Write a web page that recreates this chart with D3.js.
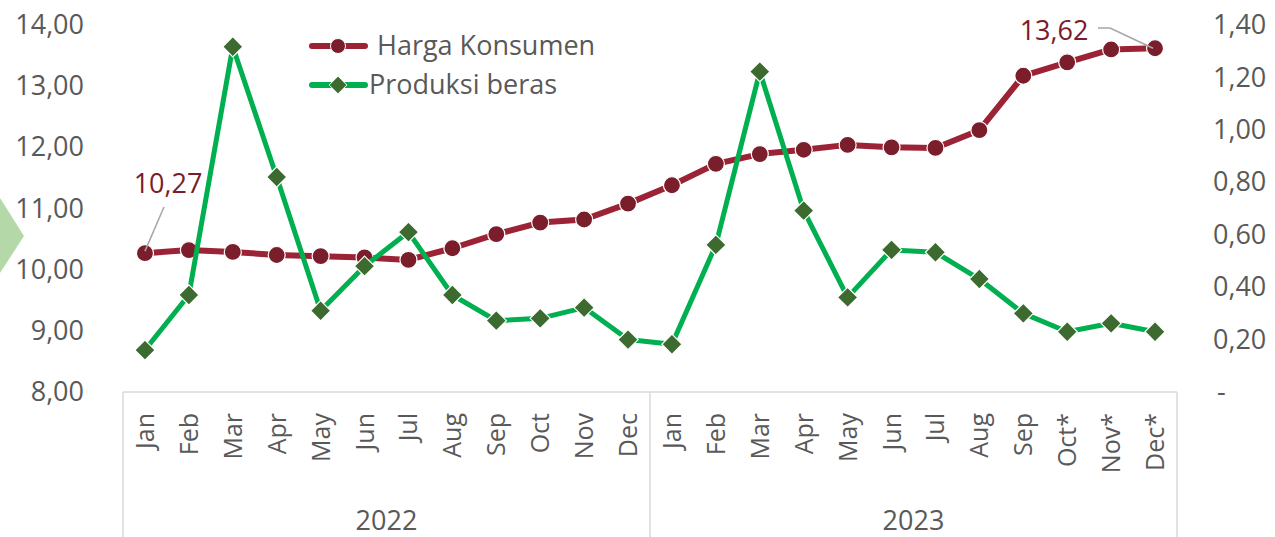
<!DOCTYPE html>
<html>
<head>
<meta charset="utf-8">
<script src="https://cdn.jsdelivr.net/npm/d3@7"></script>
<style>
    body { margin: 0; background: #fff; }
    text { font-family: "Open Sans", "Noto Sans", sans-serif; }
</style>
</head>
<body>
<div id="chart"></div>
<script>
// months and years on the x axis
const years = ["2022", "2023"];
const months = ["Jan", "Feb", "Mar", "Apr", "May", "Jun", "Jul", "Aug", "Sep", "Oct", "Nov", "Dec",
                "Jan", "Feb", "Mar", "Apr", "May", "Jun", "Jul", "Aug", "Sep", "Oct*", "Nov*", "Dec*"];

// Harga Konsumen (left axis)
const harga = [10.27, 10.32, 10.29, 10.24, 10.22, 10.20, 10.16, 10.35, 10.58, 10.77, 10.82, 11.08,
               11.38, 11.73, 11.89, 11.96, 12.04, 12.00, 11.99, 12.28, 13.17, 13.39, 13.60, 13.62];

// Produksi beras (right axis)
const produksi = [0.16, 0.37, 1.317, 0.82, 0.31, 0.48, 0.61, 0.37, 0.272, 0.281, 0.322, 0.20,
                  0.182, 0.561, 1.222, 0.692, 0.361, 0.542, 0.533, 0.431, 0.30, 0.23, 0.262, 0.23];

const leftTicks = [8, 9, 10, 11, 12, 13, 14];
const rightTicks = [0, 0.2, 0.4, 0.6, 0.8, 1.0, 1.2, 1.4];

const width = 1275, height = 537;
const margin = { top: 25, right: 98, bottom: 145, left: 123 };

const svg = d3.select("#chart").append("svg")
    .attr("width", width)
    .attr("height", height);

const locale = d3.formatLocale({ decimal: ",", thousands: ".", grouping: [3], currency: ["", ""] });
const f2 = locale.format(".2f");

// index of each point, so months can repeat
const idx = months.map((m, i) => i);

const x = d3.scaleBand()
    .domain(idx)
    .range([margin.left, width - margin.right])
    .padding(0);

const yL = d3.scaleLinear()
    .domain([8, 14])
    .range([height - margin.bottom, margin.top]);

const yR = d3.scaleLinear()
    .domain([0, 1.4])
    .range([height - margin.bottom, margin.top]);

const cx = i => x(i) + x.bandwidth() / 2;
const axisY = height - margin.bottom;

// decorative chevron at the left edge
svg.append("polygon")
    .attr("points", "0,198 24,236 0,273")
    .attr("fill", "#b4d8a8");

// left axis
const leftAxis = svg.append("g")
    .attr("transform", "translate(96,0)")
    .call(d3.axisLeft(yL).tickValues(leftTicks).tickSize(0).tickPadding(12).tickFormat(f2));
leftAxis.select(".domain").remove();
leftAxis.selectAll("text")
    .attr("font-size", 27)
    .attr("fill", "#595959")
    .attr("font-family", "Open Sans, sans-serif");

// right axis
const rightAxis = svg.append("g")
    .attr("transform", "translate(1201,0)")
    .call(d3.axisRight(yR).tickValues(rightTicks).tickSize(0).tickPadding(12)
        .tickFormat(d => d === 0 ? "-" : f2(d)));
rightAxis.select(".domain").remove();
rightAxis.selectAll("text")
    .attr("font-size", 27)
    .attr("fill", "#595959")
    .attr("font-family", "Open Sans, sans-serif");
rightAxis.selectAll(".tick").filter(d => d === 0).select("text").attr("dx", 4);

// category axis box
svg.append("line")
    .attr("x1", margin.left).attr("x2", width - margin.right)
    .attr("y1", axisY).attr("y2", axisY)
    .attr("stroke", "#d9d9d9").attr("stroke-width", 1.5);

const bounds = [0, 12, 24].map(i => i < 24 ? x(i) : x(23) + x.bandwidth());
svg.selectAll(".sep")
    .data(bounds)
    .enter().append("line")
    .attr("class", "sep")
    .attr("x1", d => d).attr("x2", d => d)
    .attr("y1", axisY).attr("y2", height)
    .attr("stroke", "#d9d9d9").attr("stroke-width", 1.5);

// month labels
svg.selectAll(".month")
    .data(idx)
    .enter().append("text")
    .attr("class", "month")
    .attr("transform", i => "translate(" + (cx(i) + 9) + ",413) rotate(-90)")
    .attr("text-anchor", "end")
    .attr("font-size", 25)
    .attr("fill", "#595959")
    .text(i => months[i]);

// year labels
svg.selectAll(".year")
    .data(years)
    .enter().append("text")
    .attr("class", "year")
    .attr("x", (d, k) => (bounds[k] + bounds[k + 1]) / 2)
    .attr("y", 530)
    .attr("text-anchor", "middle")
    .attr("font-size", 27)
    .attr("fill", "#595959")
    .text(d => d);

// Harga Konsumen
const lineL = d3.line().x(i => cx(i)).y(i => yL(harga[i]));
svg.append("path")
    .datum(idx)
    .attr("d", lineL)
    .attr("fill", "none")
    .attr("stroke", "#9b2335")
    .attr("stroke-width", 6)
    .attr("stroke-linejoin", "round");

svg.selectAll(".dotL")
    .data(idx)
    .enter().append("circle")
    .attr("class", "dotL")
    .attr("cx", i => cx(i))
    .attr("cy", i => yL(harga[i]))
    .attr("r", 8.5)
    .attr("fill", "#7a1e2b")
    .attr("stroke", "#fff")
    .attr("stroke-width", 1.2);

// Produksi beras
const lineR = d3.line().x(i => cx(i)).y(i => yR(produksi[i]));
svg.append("path")
    .datum(idx)
    .attr("d", lineR)
    .attr("fill", "none")
    .attr("stroke", "#00b050")
    .attr("stroke-width", 5)
    .attr("stroke-linejoin", "round");

const diamond = d3.symbol().type(d3.symbolDiamond2).size(260);
svg.selectAll(".dotR")
    .data(idx)
    .enter().append("path")
    .attr("class", "dotR")
    .attr("transform", i => "translate(" + cx(i) + "," + yR(produksi[i]) + ")")
    .attr("d", diamond)
    .attr("fill", "#3d6a2e")
    .attr("stroke", "#fff")
    .attr("stroke-width", 1.2);

// data labels with leader lines
const first = 0, last = 23;
svg.append("polyline")
    .attr("points", [[164, 207], [cx(first), yL(harga[first]) - 2]].join(" "))
    .attr("fill", "none").attr("stroke", "#a6a6a6").attr("stroke-width", 1.5);
svg.append("text")
    .attr("x", 168).attr("y", 193)
    .attr("text-anchor", "middle")
    .attr("font-size", 27)
    .attr("fill", "#7b1c2a")
    .text(f2(harga[first]));

svg.append("polyline")
    .attr("points", [[1098, 28], [1110, 28], [cx(last) - 2, yL(harga[last])]].join(" "))
    .attr("fill", "none").attr("stroke", "#a6a6a6").attr("stroke-width", 1.5);
svg.append("text")
    .attr("x", 1054).attr("y", 40)
    .attr("text-anchor", "middle")
    .attr("font-size", 27)
    .attr("fill", "#7b1c2a")
    .text(f2(harga[last]));

// legend
const legend = svg.append("g");
const items = [
    { name: "Harga Konsumen", color: "#9b2335", mark: "#7a1e2b", y: 46, tx: 377 },
    { name: "Produksi beras", color: "#00b050", mark: "#3d6a2e", y: 85, tx: 369 }
];
items.forEach((d, k) => {
    legend.append("line")
        .attr("x1", 312).attr("x2", 365)
        .attr("y1", d.y).attr("y2", d.y)
        .attr("stroke", d.color).attr("stroke-width", 6)
        .attr("stroke-linecap", "round");
    if (k === 0) {
        legend.append("circle")
            .attr("cx", 338).attr("cy", d.y).attr("r", 7.5)
            .attr("fill", d.mark).attr("stroke", "#fff").attr("stroke-width", 1);
    } else {
        legend.append("path")
            .attr("transform", "translate(338," + d.y + ")")
            .attr("d", d3.symbol().type(d3.symbolDiamond2).size(200))
            .attr("fill", d.mark).attr("stroke", "#fff").attr("stroke-width", 1);
    }
    legend.append("text")
        .attr("x", d.tx).attr("y", d.y + 9)
        .attr("font-size", 27)
        .attr("fill", "#595959")
        .text(d.name);
});
</script>
</body>
</html>
